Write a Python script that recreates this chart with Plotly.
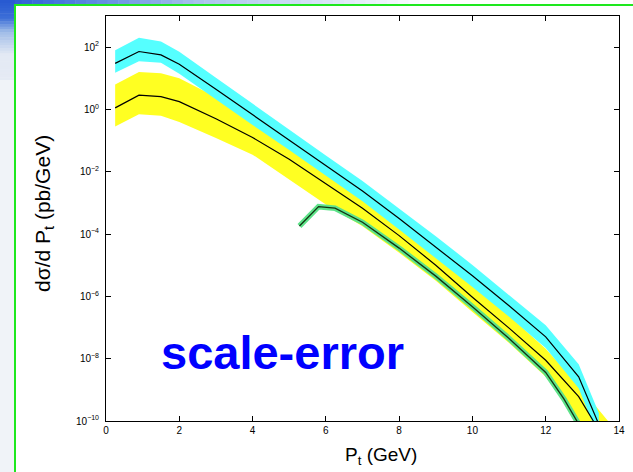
import plotly.graph_objects as go

# ---------------- data (log10 of dσ/dPt in pb/GeV) ----------------
pt_cyan = [0.25, 0.9, 1.5, 2.0, 3.0, 4.0, 5.0, 6.0, 7.0, 8.0, 9.0, 10.0, 11.0, 12.0, 12.9, 13.45]
cyan_mid = [1.48, 1.86, 1.75, 1.45, 0.65, -0.17, -0.98, -1.80, -2.62, -3.50, -4.42, -5.34, -6.30, -7.30, -8.58, -10.11]
cyan_hi = [1.90, 2.30, 2.18, 1.85, 1.02, 0.18, -0.65, -1.48, -2.30, -3.17, -4.07, -4.99, -5.95, -6.93, -8.18, -9.74]
cyan_lo = [1.18, 1.55, 1.50, 1.15, 0.32, -0.50, -1.30, -2.12, -2.95, -3.85, -4.77, -5.70, -6.65, -7.66, -8.95, -10.55]

pt_yellow = [0.25, 0.9, 1.5, 2.0, 3.0, 4.0, 5.0, 6.0, 7.0, 8.0, 9.0, 10.0, 11.0, 12.0, 12.9, 13.3, 13.7]
yellow_mid = [0.05, 0.46, 0.41, 0.25, -0.30, -0.90, -1.60, -2.38, -3.17, -4.05, -5.00, -6.03, -7.02, -8.05, -9.22, -10.0, -10.8]
yellow_hi = [0.80, 1.20, 1.16, 1.00, 0.40, -0.30, -1.05, -1.90, -2.75, -3.65, -4.60, -5.65, -6.62, -7.68, -8.85, -9.43, -10.0]
yellow_lo = [-0.55, -0.15, -0.20, -0.40, -0.92, -1.45, -2.25, -3.05, -3.75, -4.60, -5.50, -6.50, -7.50, -8.58, -10.0, -10.8, -11.6]

pt_green = [5.28, 5.8, 6.25, 7.0, 8.0, 9.0, 10.0, 11.0, 12.0, 12.5, 12.9]
green_mid = [-3.74, -3.12, -3.17, -3.62, -4.45, -5.35, -6.33, -7.35, -8.44, -9.3, -10.1]

x_ticks = [0, 2, 4, 6, 8, 10, 12, 14]
y_tick_exp = [2, 0, -2, -4, -6, -8, -10]
y_tick_text = ["10<sup>%s</sup>" % (str(e).replace("-", "\u2212")) for e in y_tick_exp]


def val(lst):
    return [10 ** v for v in lst]


CYAN = "#55ffff"
YELLOW = "#ffff22"
GREEN = "#5ee38a"
FONT = "Liberation Sans, Arial, Helvetica, sans-serif"

fig = go.Figure()

# yellow band
fig.add_trace(go.Scatter(x=pt_yellow + pt_yellow[::-1], y=val(yellow_hi + yellow_lo[::-1]),
                         fill="toself", fillcolor=YELLOW, mode="lines", line=dict(width=0),
                         hoverinfo="skip"))
# cyan band
fig.add_trace(go.Scatter(x=pt_cyan + pt_cyan[::-1], y=val(cyan_hi + cyan_lo[::-1]),
                         fill="toself", fillcolor=CYAN, mode="lines", line=dict(width=0),
                         hoverinfo="skip"))
# green halo
fig.add_trace(go.Scatter(x=pt_green, y=val(green_mid), mode="lines",
                         line=dict(color=GREEN, width=5.5)))
# central lines
fig.add_trace(go.Scatter(x=pt_yellow, y=val(yellow_mid), mode="lines", line=dict(color="black", width=1.2)))
fig.add_trace(go.Scatter(x=pt_cyan, y=val(cyan_mid), mode="lines", line=dict(color="black", width=1.2)))
fig.add_trace(go.Scatter(x=pt_green, y=val(green_mid), mode="lines", line=dict(color="#113311", width=1.3)))

W, H = 633, 472
ML, MR, MT, MB = 106, 14, 16, 51
PW, PH = W - ML - MR, H - MT - MB


def px(xp):
    return (xp - ML) / PW


def py(yp):
    return (H - MB - yp) / PH


shapes = []


def lerp(c1, c2, t):
    return tuple(int(round(a + (b - a) * t)) for a, b in zip(c1, c2))


# top gradient strip (slide header)
top_stops = [(0, (38, 88, 208)), (60, (70, 120, 220)), (200, (170, 195, 236)), (430, (255, 255, 255))]
n = 40
for i in range(n):
    x0 = 430 * i / n
    x1 = 430 * (i + 1) / n
    xm = (x0 + x1) / 2
    for j in range(len(top_stops) - 1):
        if top_stops[j][0] <= xm <= top_stops[j + 1][0]:
            t = (xm - top_stops[j][0]) / (top_stops[j + 1][0] - top_stops[j][0])
            c = lerp(top_stops[j][1], top_stops[j + 1][1], t)
    shapes.append(dict(type="rect", xref="paper", yref="paper", x0=px(x0), x1=px(x1 + 0.5),
                       y0=py(6), y1=py(-1), fillcolor="rgb%s" % (c,), line=dict(width=0), layer="below"))

# left gradient strip
left_stops = [(0, (38, 88, 208)), (18, (60, 110, 215)), (32, (160, 188, 232)), (55, (228, 234, 244)),
              (472, (240, 243, 248))]
n = 30
for i in range(n):
    y0 = 80 * i / n
    y1 = 80 * (i + 1) / n
    ym = (y0 + y1) / 2
    for j in range(len(left_stops) - 1):
        if left_stops[j][0] <= ym <= left_stops[j + 1][0]:
            t = (ym - left_stops[j][0]) / (left_stops[j + 1][0] - left_stops[j][0])
            c = lerp(left_stops[j][1], left_stops[j + 1][1], t)
    shapes.append(dict(type="rect", xref="paper", yref="paper", x0=px(-1), x1=px(15),
                       y0=py(y1 + 0.5), y1=py(y0), fillcolor="rgb%s" % (c,), line=dict(width=0), layer="below"))
shapes.append(dict(type="rect", xref="paper", yref="paper", x0=px(-1), x1=px(15),
                   y0=py(480), y1=py(80), fillcolor="rgb(240,243,248)", line=dict(width=0), layer="below"))
# green frame
shapes.append(dict(type="rect", xref="paper", yref="paper", x0=px(15), x1=px(700),
                   y0=py(520), y1=py(5), fillcolor="rgba(0,0,0,0)",
                   line=dict(color="rgb(30,232,30)", width=2), layer="below"))

annotations = [
    dict(text="scale-error", xref="paper", yref="paper", x=px(282), y=py(352), xanchor="center", yanchor="middle",
         showarrow=False, font=dict(family=FONT, size=47, color="#0000ff", weight="bold")),
    dict(text="P<sub>t</sub> (GeV)", xref="paper", yref="paper", x=px(381), y=py(456), xanchor="center",
         yanchor="middle", showarrow=False, font=dict(family=FONT, size=19, color="black")),
    dict(text="d\u03c3/d P<sub>t</sub> (pb/GeV)", xref="paper", yref="paper", x=px(44), y=py(214),
         xanchor="center", yanchor="middle", textangle=-90, showarrow=False,
         font=dict(family=FONT, size=21, color="black")),
]

fig.update_layout(
    width=W, height=H,
    margin=dict(l=ML, r=MR, t=MT, b=MB, autoexpand=False),
    paper_bgcolor="white", plot_bgcolor="white",
    showlegend=False,
    shapes=shapes,
    annotations=annotations,
)
fig.update_xaxes(range=[0, 14], tickvals=x_ticks, ticktext=[str(t) for t in x_ticks],
                 ticks="inside", ticklen=5, tickwidth=1, tickcolor="black",
                 showline=True, linecolor="black", linewidth=1, mirror="ticks",
                 showgrid=False, zeroline=False,
                 tickfont=dict(family=FONT, size=10, color="black"))
fig.update_yaxes(type="log", range=[-10, 3], tickvals=[10 ** e for e in y_tick_exp], ticktext=y_tick_text,
                 ticks="inside", ticklen=5, tickwidth=1, tickcolor="black",
                 showline=True, linecolor="black", linewidth=1, mirror="ticks",
                 showgrid=False, zeroline=False, ticklabelstandoff=4,
                 tickfont=dict(family=FONT, size=10, color="black"))

fig.write_html("out.html", config={"displayModeBar": False},
               post_script="document.body.style.margin='0';document.body.style.overflow='hidden';")
